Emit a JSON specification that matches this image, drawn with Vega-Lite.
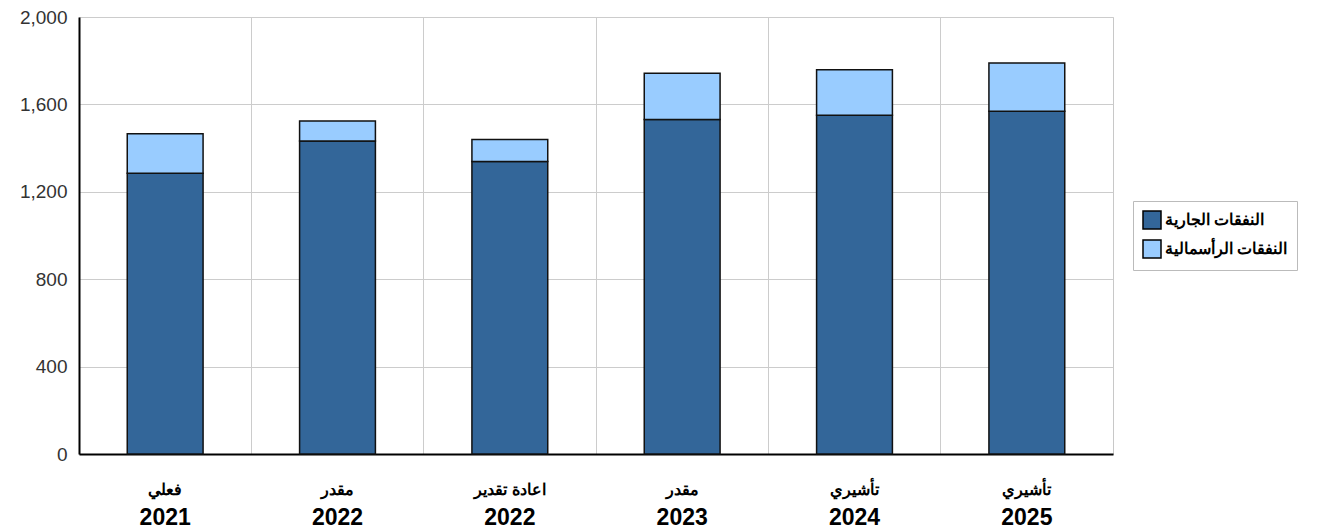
{
  "$schema": "https://vega.github.io/schema/vega-lite/v6.json",
  "width": 1034,
  "height": 437,
  "autosize": "none",
  "padding": {"left": 79, "top": 17, "right": 208, "bottom": 75},
  "config": {
    "view": {"stroke": "#c8c8c8", "strokeWidth": 1},
    "font": "Liberation Sans"
  },
  "data": {
    "values": [
      {"cat": "فعلي|2021", "type": "النفقات الجارية", "o": 1, "value": 1285},
      {"cat": "فعلي|2021", "type": "النفقات الرأسمالية", "o": 2, "value": 181},
      {"cat": "مقدر|2022", "type": "النفقات الجارية", "o": 1, "value": 1432},
      {"cat": "مقدر|2022", "type": "النفقات الرأسمالية", "o": 2, "value": 92},
      {"cat": "اعادة تقدير|2022", "type": "النفقات الجارية", "o": 1, "value": 1339},
      {"cat": "اعادة تقدير|2022", "type": "النفقات الرأسمالية", "o": 2, "value": 100},
      {"cat": "مقدر|2023", "type": "النفقات الجارية", "o": 1, "value": 1531},
      {"cat": "مقدر|2023", "type": "النفقات الرأسمالية", "o": 2, "value": 212},
      {"cat": "تأشيري|2024", "type": "النفقات الجارية", "o": 1, "value": 1550},
      {"cat": "تأشيري|2024", "type": "النفقات الرأسمالية", "o": 2, "value": 209},
      {"cat": "تأشيري|2025", "type": "النفقات الجارية", "o": 1, "value": 1569},
      {"cat": "تأشيري|2025", "type": "النفقات الرأسمالية", "o": 2, "value": 220}
    ]
  },
  "resolve": {"axis": {"x": "independent"}},
  "layer": [
    {
      "mark": {"type": "bar", "width": {"band": 0.44}, "stroke": "#111111", "strokeWidth": 1.5},
      "encoding": {
        "x": {
          "field": "cat",
          "type": "nominal",
          "sort": null,
          "scale": {"paddingInner": 0, "paddingOuter": 0},
          "axis": {
            "title": null,
            "orient": "bottom",
            "bandPosition": 0,
            "labelAngle": 0,
            "labelExpr": "split(datum.label, '|')[0]",
            "labelFontSize": 16,
            "labelFontWeight": "bold",
            "labelColor": "#000000",
            "labelOverlap": false,
            "labelBound": false,
            "labelPadding": 27,
            "ticks": false,
            "grid": true,
            "gridColor": "#cccccc",
            "domainColor": "#000000",
            "domainWidth": 2
          }
        },
        "y": {
          "field": "value",
          "type": "quantitative",
          "stack": "zero",
          "scale": {"domain": [0, 2000]},
          "axis": {
            "title": null,
            "values": [0, 400, 800, 1200, 1600, 2000],
            "format": ",.0f",
            "grid": true,
            "gridColor": "#cccccc",
            "ticks": false,
            "domainColor": "#000000",
            "domainWidth": 2,
            "labelFontSize": 19,
            "labelColor": "#333333",
            "labelPadding": 12
          }
        },
        "order": {"field": "o", "type": "quantitative"},
        "color": {
          "field": "type",
          "type": "nominal",
          "scale": {
            "domain": ["النفقات الجارية", "النفقات الرأسمالية"],
            "range": ["#336699", "#99ccff"]
          },
          "legend": {
            "title": null,
            "orient": "none",
            "legendX": 1054,
            "legendY": 184,
            "strokeColor": "#bbbbbb",
            "padding": 9,
            "symbolType": "square",
            "symbolSize": 324,
            "symbolStrokeColor": "#000000",
            "symbolStrokeWidth": 1.5,
            "symbolOpacity": 1,
            "labelFontSize": 16,
            "labelFontWeight": "bold",
            "labelColor": "#000000",
            "labelOffset": 3,
            "rowPadding": 5
          }
        }
      }
    },
    {
      "mark": {"type": "bar", "width": {"band": 0.44}, "opacity": 0},
      "encoding": {
        "x": {
          "field": "cat",
          "type": "nominal",
          "sort": null,
          "axis": {
            "title": null,
            "orient": "bottom",
            "labelAngle": 0,
            "labelExpr": "split(datum.label, '|')[1]",
            "labelFontSize": 23,
            "labelFontWeight": "bold",
            "labelColor": "#000000",
            "labelOverlap": false,
            "labelBound": false,
            "labelPadding": 52,
            "ticks": false,
            "grid": false,
            "domain": false
          }
        },
        "y": {
          "field": "value",
          "type": "quantitative",
          "stack": "zero"
        },
        "order": {"field": "o", "type": "quantitative"}
      }
    }
  ]
}
